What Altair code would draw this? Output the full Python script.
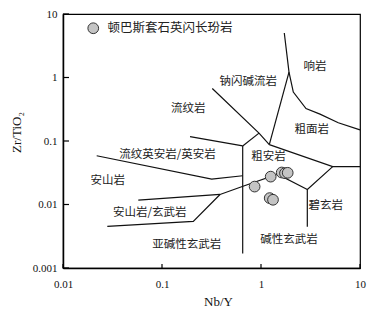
import altair as alt
import pandas as pd

# ---- field boundaries (Nb/Y, Zr/TiO2) ----
A_x = [1.719, 1.918, 2.120, 2.848, 3.945, 6.036, 10.0]
A_y = [5.021, 1.217, 0.5895, 0.3248, 0.2651, 0.1935, 0.1497]
B_x = [1.918, 1.213]
B_y = [1.217, 0.0876]
C_x = [0.3222, 0.9546, 1.213]
C_y = [0.6706, 0.1330, 0.0876]
D_x = [0.9546, 0.6533]
D_y = [0.1330, 0.0837]
E_x = [0.1918, 0.6533]
E_y = [0.1174, 0.0837]
F_x = [0.6533, 0.6533]
F_y = [0.0837, 0.00169]
G_x = [1.213, 5.299, 10.0]
G_y = [0.0876, 0.03953, 0.03953]
H_x = [5.299, 2.936, 2.936]
H_y = [0.03953, 0.01720, 0.004479]
I_x = [0.05762, 0.3855, 0.6579, 1.468, 2.936]
I_y = [0.01174, 0.01439, 0.01936, 0.03003, 0.01720]
K_x = [0.3855, 0.2071, 0.02803]
K_y = [0.01439, 0.005412, 0.004527]
J_x = [0.02189, 0.3177, 0.6533]
J_y = [0.05855, 0.02512, 0.02836]

# ---- samples ----
sample_name = "顿巴斯套石英闪长玢岩"
pts_x = [0.862, 1.253, 1.619, 1.747, 1.861, 1.224, 1.322]
pts_y = [0.01915, 0.02747, 0.03191, 0.03112, 0.03156, 0.01261, 0.01187]

# ---- field labels ----
lab_text = ["响岩", "钠闪碱流岩", "流纹岩", "粗面岩", "粗安岩", "流纹英安岩/英安岩",
            "安山岩", "安山岩/玄武岩", "亚碱性玄武岩", "碱性玄武岩", "碧玄岩"]
lab_x = [3.512, 0.744, 0.1844, 3.251, 1.191, 0.1137, 0.02835, 0.07511, 0.1776, 1.918, 4.513]
lab_y = [1.455, 0.8425, 0.3248, 0.1465, 0.05547, 0.06003, 0.02372, 0.007304, 0.002273, 0.002786, 0.009478]

x_ticks = [0.01, 0.1, 1, 10]
y_ticks = [0.001, 0.01, 0.1, 1, 10]

segs = {"A": (A_x, A_y), "B": (B_x, B_y), "C": (C_x, C_y), "D": (D_x, D_y),
        "E": (E_x, E_y), "F": (F_x, F_y), "G": (G_x, G_y), "H": (H_x, H_y),
        "I": (I_x, I_y), "K": (K_x, K_y), "J": (J_x, J_y)}
rows = []
for k, (xs_, ys_) in segs.items():
    for i, (a, b) in enumerate(zip(xs_, ys_)):
        rows.append({"seg": k, "o": i, "x": a, "y": b})
lines_df = pd.DataFrame(rows)
pts_df = pd.DataFrame({"x": pts_x, "y": pts_y, "g": [sample_name] * len(pts_x)})
lab_df = pd.DataFrame({"x": lab_x, "y": lab_y, "t": lab_text})
xt_df = pd.DataFrame({"x": x_ticks})
yt_df = pd.DataFrame({"y": y_ticks})

W, H = 297, 254
xs = alt.Scale(type="log", domain=[0.01, 10], nice=False)
ys = alt.Scale(type="log", domain=[0.001, 10], nice=False)
serif = "Liberation Serif"
cjk = "Noto Sans CJK SC"

x_axis = alt.Axis(values=x_ticks, format="~g", ticks=False, grid=False, labelFlush=False,
                  labelOverlap=False, labelPadding=10, labelFont=serif, labelFontSize=11,
                  labelColor="#111", domainColor="#000", domainWidth=1.5,
                  title="Nb/Y", titleFont=serif, titleFontSize=13, titleFontWeight="normal",
                  titleColor="#111", titleX=155, titleY=33, titleAlign="center",
                  titleBaseline="middle")
y_axis = alt.Axis(values=y_ticks, format="~g", ticks=False, grid=False, labelFlush=False,
                  labelOverlap=False, labelPadding=6, labelFont=serif, labelFontSize=11,
                  labelColor="#111", domainColor="#000", domainWidth=1.5,
                  title="Zr/TiO₂", titleFont=serif, titleFontSize=13, titleFontWeight="normal",
                  titleColor="#111", titleX=-47, titleY=118, titleAngle=270,
                  titleAlign="center", titleBaseline="middle")

X = alt.X("x:Q", scale=xs, axis=x_axis)
Y = alt.Y("y:Q", scale=ys, axis=y_axis)

lines = alt.Chart(lines_df).mark_line(color="#111", strokeWidth=1.2).encode(
    x=X, y=Y, detail="seg:N", order="o:Q",
)

labels = alt.Chart(lab_df).mark_text(font=cjk, fontSize=11.5, color="#222",
                                     align="center", baseline="middle").encode(
    x=X, y=Y, text="t:N",
)

xticks = alt.Chart(xt_df).mark_rule(color="#000", strokeWidth=1.2).encode(
    x=X, y=alt.value(H), y2=alt.value(H - 4),
)
yticks = alt.Chart(yt_df).mark_rule(color="#000", strokeWidth=1.2).encode(
    y=Y, x=alt.value(0), x2=alt.value(6),
)

points = alt.Chart(pts_df).mark_point(filled=True, size=115, opacity=1,
                                      stroke="#333", strokeWidth=1).encode(
    x=X, y=Y,
    fill=alt.Fill("g:N", scale=alt.Scale(domain=[sample_name], range=["#c4c4c4"]),
                  legend=alt.Legend(title=None, orient="none", legendX=24, legendY=8,
                                    symbolType="circle", symbolSize=115,
                                    symbolStrokeColor="#333", symbolStrokeWidth=1,
                                    symbolOpacity=1, labelFont=cjk, labelFontSize=12.5,
                                    labelColor="#222", labelOffset=8, padding=0)),
)

chart = alt.layer(lines, xticks, yticks, labels, points).properties(
    width=W, height=H,
    background="white",
    autosize=alt.AutoSizeParams(type="none"),
    padding={"left": 55, "top": 6, "right": 14, "bottom": 44},
).configure_view(stroke="#000", strokeWidth=1.2)

chart.save("out.html", embed_options={"renderer": "svg", "actions": False})
